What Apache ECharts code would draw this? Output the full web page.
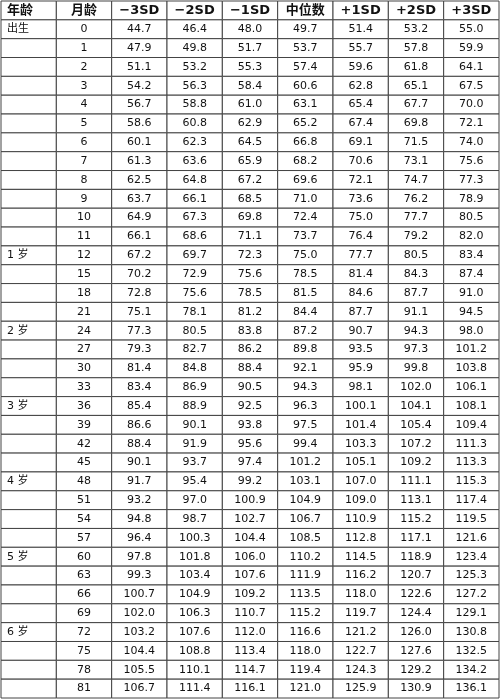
<!DOCTYPE html>
<html>
<head>
<meta charset="utf-8">
<script src="https://cdn.jsdelivr.net/npm/echarts@6/dist/echarts.min.js"></script>
<style>html,body{margin:0;padding:0;background:#fff}#main{width:500px;height:699px}</style>
</head>
<body>
<div id="main"></div>
<script>
var headers = ['年龄', '月龄', '−3SD', '−2SD', '−1SD', '中位数', '+1SD', '+2SD', '+3SD'];
var ageLabels = { 0: '出生', 12: '1 岁', 24: '2 岁', 36: '3 岁', 48: '4 岁', 60: '5 岁', 72: '6 岁' };
var months = [0,1,2,3,4,5,6,7,8,9,10,11,12,15,18,21,24,27,30,33,36,39,42,45,48,51,54,57,60,63,66,69,72,75,78,81];
var neg3 = [44.7,47.9,51.1,54.2,56.7,58.6,60.1,61.3,62.5,63.7,64.9,66.1,67.2,70.2,72.8,75.1,77.3,79.3,81.4,83.4,85.4,86.6,88.4,90.1,91.7,93.2,94.8,96.4,97.8,99.3,100.7,102.0,103.2,104.4,105.5,106.7];
var neg2 = [46.4,49.8,53.2,56.3,58.8,60.8,62.3,63.6,64.8,66.1,67.3,68.6,69.7,72.9,75.6,78.1,80.5,82.7,84.8,86.9,88.9,90.1,91.9,93.7,95.4,97.0,98.7,100.3,101.8,103.4,104.9,106.3,107.6,108.8,110.1,111.4];
var neg1 = [48.0,51.7,55.3,58.4,61.0,62.9,64.5,65.9,67.2,68.5,69.8,71.1,72.3,75.6,78.5,81.2,83.8,86.2,88.4,90.5,92.5,93.8,95.6,97.4,99.2,100.9,102.7,104.4,106.0,107.6,109.2,110.7,112.0,113.4,114.7,116.1];
var median = [49.7,53.7,57.4,60.6,63.1,65.2,66.8,68.2,69.6,71.0,72.4,73.7,75.0,78.5,81.5,84.4,87.2,89.8,92.1,94.3,96.3,97.5,99.4,101.2,103.1,104.9,106.7,108.5,110.2,111.9,113.5,115.2,116.6,118.0,119.4,121.0];
var pos1 = [51.4,55.7,59.6,62.8,65.4,67.4,69.1,70.6,72.1,73.6,75.0,76.4,77.7,81.4,84.6,87.7,90.7,93.5,95.9,98.1,100.1,101.4,103.3,105.1,107.0,109.0,110.9,112.8,114.5,116.2,118.0,119.7,121.2,122.7,124.3,125.9];
var pos2 = [53.2,57.8,61.8,65.1,67.7,69.8,71.5,73.1,74.7,76.2,77.7,79.2,80.5,84.3,87.7,91.1,94.3,97.3,99.8,102.0,104.1,105.4,107.2,109.2,111.1,113.1,115.2,117.1,118.9,120.7,122.6,124.4,126.0,127.6,129.2,130.9];
var pos3 = [55.0,59.9,64.1,67.5,70.0,72.1,74.0,75.6,77.3,78.9,80.5,82.0,83.4,87.4,91.0,94.5,98.0,101.2,103.8,106.1,108.1,109.4,111.3,113.3,115.3,117.4,119.5,121.6,123.4,125.3,127.2,129.1,130.8,132.5,134.2,136.1];

var valueCols = [neg3, neg2, neg1, median, pos1, pos2, pos3];
var rowIds = [];
for (var r = 0; r <= months.length; r++) rowIds.push(r);

var cells = [];
headers.forEach(function (h, c) { cells.push([c, 0, h, 1]); });
months.forEach(function (m, i) {
  cells.push([0, i + 1, ageLabels[m] || '', 0]);
  cells.push([1, i + 1, String(m), 0]);
  valueCols.forEach(function (col, j) {
    cells.push([j + 2, i + 1, col[i].toFixed(1), 0]);
  });
});

var myChart = echarts.init(document.getElementById('main'));
var option = {
  animation: false,
  grid: { left: 1, right: 1, top: 1, bottom: 1 },
  xAxis: { type: 'category', data: headers.map(function (h, i) { return i; }), show: false },
  yAxis: { type: 'category', data: rowIds, inverse: true, show: false },
  series: [{
    type: 'custom',
    data: cells,
    renderItem: function (params, api) {
      var c = api.value(0), r = api.value(1);
      var p = api.coord([c, r]);
      var s = api.size([1, 1]);
      var txt = cells[params.dataIndex][2];
      var bold = cells[params.dataIndex][3] === 1;
      var leftAlign = c === 0;
      return {
        type: 'group',
        children: [{
          type: 'rect',
          shape: { x: p[0] - s[0] / 2, y: p[1] - s[1] / 2, width: s[0], height: s[1] },
          style: { fill: '#fff', stroke: '#444', lineWidth: 1 }
        }, {
          type: 'text',
          x: leftAlign ? p[0] - s[0] / 2 + 6 : p[0],
          y: p[1],
          style: {
            text: txt,
            align: leftAlign ? 'left' : 'center',
            verticalAlign: 'middle',
            fill: '#111',
            font: (bold ? 'bold 13px' : '11px') + ' "DejaVu Sans", "Noto Sans CJK SC", sans-serif'
          }
        }]
      };
    }
  }]
};
myChart.setOption(option, true);
window.addEventListener('resize', function () { myChart.resize(); });
</script>
</body>
</html>
